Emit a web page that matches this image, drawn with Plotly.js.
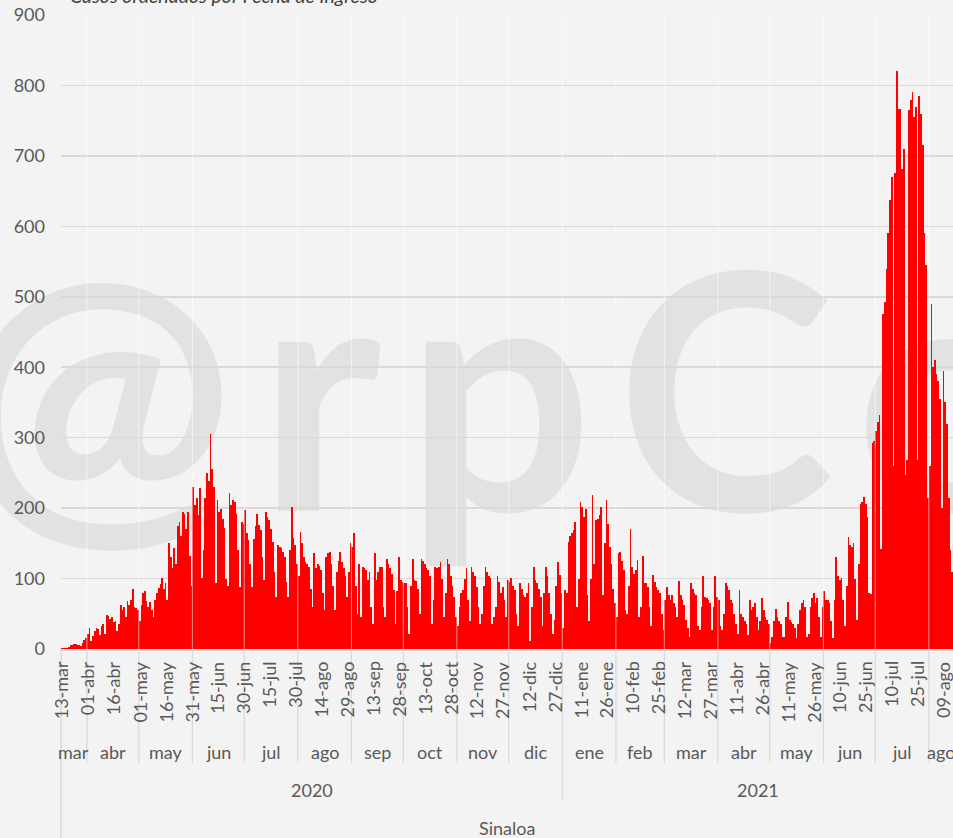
<!DOCTYPE html>
<html>
<head>
<meta charset="utf-8">
<script src="https://cdn.plot.ly/plotly-3.0.1.min.js"></script>
<style>
  html, body { margin: 0; padding: 0; background: #f3f3f3; }
  #chart { width: 953px; height: 838px; }
</style>
</head>
<body>
<div id="chart"></div>
<script>
// ---- Data: daily cases (Sinaloa), by month ----
const mar20 = [1,1,2,2,3,5,6,7,7,6,5,4,8,13,16];
const abr20 = [22,30,12,18,26,30,28,20,33,35,22,48,47,42,45,38,40,25,35,62,55,60,45,68,62,70,85,60,58,55];
const may20 = [40,62,79,83,68,60,67,55,45,70,80,86,92,101,85,94,70,150,130,115,143,120,175,180,160,195,192,170,195,132,90];
const jun20 = [230,205,214,190,229,101,140,215,250,239,305,255,230,94,211,195,199,185,172,100,89,221,205,211,208,192,140,88,181,178];
const jul20 = [198,164,155,120,88,156,175,192,176,169,130,98,195,188,183,171,152,110,74,147,145,143,138,131,95,74,140,202,157,147,120];
const ago20 = [103,166,150,131,124,120,117,85,60,136,115,121,118,112,80,55,130,136,138,121,90,55,110,125,138,124,115,103,74,110,150];
const sep20 = [145,164,90,50,121,46,117,115,112,98,110,60,36,136,98,110,117,116,60,45,128,121,115,107,84,36,82,131,98,95];
const oct20 = [93,93,60,22,90,128,98,96,85,50,128,125,121,115,112,103,36,70,117,115,117,124,100,46,80,128,121,103,90,74,45];
const nov20 = [32,60,80,84,100,115,70,40,117,110,103,88,60,36,50,90,117,110,103,101,36,45,60,103,95,80,88,70,46,98];
const dic20 = [95,101,90,84,50,32,93,85,77,74,80,93,12,60,117,98,93,85,74,32,80,117,103,80,50,22,41,90,124,105,80];
const ene21 = [30,84,80,152,160,164,169,181,60,100,209,202,188,199,77,40,100,218,121,183,184,190,202,77,150,211,178,145,121,85,65];
const feb21 = [46,136,138,125,112,55,50,90,170,117,107,112,126,46,60,132,93,93,88,60,32,105,95,88,84,80,50,27];
const mar21 = [70,88,77,70,77,65,60,45,96,77,70,63,41,30,17,93,85,80,77,32,27,60,103,74,72,70,65,27,60,103,74];
const abr21 = [70,32,27,50,93,90,84,70,65,50,36,22,84,50,46,40,36,20,70,55,60,65,46,27,40,72,55,46,41,36];
const may21 = [8,17,40,57,46,40,36,17,17,45,67,41,38,36,30,15,35,55,65,70,60,17,22,60,72,80,65,72,45,17,60];
const jun21 = [82,70,70,65,40,15,70,131,103,98,101,70,32,90,159,147,145,150,100,41,120,206,209,216,206,188,80,78,292,295];
const jul21 = [310,322,332,142,475,493,540,590,638,670,260,676,820,767,767,681,710,247,268,765,780,790,755,770,268,785,760,715,590,545,215];
const ago21 = [260,490,400,410,390,380,355,200,395,350,320,215,140,110];

const monthSeries = [mar20,abr20,may20,jun20,jul20,ago20,sep20,oct20,nov20,dic20,ene21,feb21,mar21,abr21,may21,jun21,jul21,ago21];
const monthLabels = ['mar','abr','may','jun','jul','ago','sep','oct','nov','dic','ene','feb','mar','abr','may','jun','jul','ago'];
const monthYear   = ['2020','2020','2020','2020','2020','2020','2020','2020','2020','2020','2021','2021','2021','2021','2021','2021','2021','2021'];
const tickLabels = ['13-mar','01-abr','16-abr','01-may','16-may','31-may','15-jun','30-jun','15-jul','30-jul','14-ago','29-ago','13-sep','28-sep','13-oct','28-oct','12-nov','27-nov','12-dic','27-dic','11-ene','26-ene','10-feb','25-feb','12-mar','27-mar','11-abr','26-abr','11-may','26-may','10-jun','25-jun','10-jul','25-jul','09-ago'];
const tickStep = 15;
const stateLabel = 'Sinaloa';
const titleText = 'Casos ordenados por Fecha de Ingreso';
const watermarkText = '@rpCo';

// ---- Build series ----
const cases = [].concat(...monthSeries);
const xs = cases.map((_, i) => i);
const N = cases.length;
const tickvals = tickLabels.map((_, i) => i * tickStep);

const starts = [];
let acc = 0;
monthSeries.forEach(m => { starts.push(acc); acc += m.length; });

const GRAY = '#595959';
const LINE = '#d9d9d9';
const FONT = 'Lato, "Open Sans", sans-serif';
const FS = 18;

const annotations = [];
// watermark (index 0, moved below the bars after render)
annotations.push({
  text: watermarkText, xref: 'paper', yref: 'paper', x: -0.053, y: 0.42,
  xanchor: 'left', yanchor: 'middle', showarrow: false,
  font: { family: 'Lato, "Liberation Sans", sans-serif', size: 330, color: '#e2e2e2', weight: 'bold' }
});
// title (cut off at top)
annotations.push({
  text: titleText, xref: 'paper', yref: 'paper', x: 0.0078, y: 1.031,
  xanchor: 'left', yanchor: 'middle', showarrow: false,
  font: { family: FONT, size: 19.5, color: '#404040', style: 'italic' }
});
// rotated day tick labels, right-aligned just below the axis
tickLabels.forEach((t, i) => {
  annotations.push({
    text: t, xref: 'x', yref: 'paper', x: tickvals[i], y: -0.018,
    xanchor: 'center', yanchor: 'top', textangle: -90, showarrow: false,
    borderpad: 0,
    font: { family: FONT, size: FS, color: GRAY }
  });
});

const shapes = [];
const yearSpans = {};
starts.forEach((s, i) => {
  const e = s + monthSeries[i].length - 1;
  annotations.push({
    text: monthLabels[i], xref: 'x', yref: 'paper', x: (s + e) / 2, y: -0.1625,
    xanchor: 'center', yanchor: 'middle', showarrow: false,
    font: { family: FONT, size: FS, color: GRAY }
  });
  const y = monthYear[i];
  if (!yearSpans[y]) yearSpans[y] = [s, e]; else yearSpans[y][1] = e;
  if (i > 0) {
    const newYear = monthYear[i] !== monthYear[i - 1];
    shapes.push({
      type: 'line', xref: 'x', yref: 'paper', x0: s - 0.5, x1: s - 0.5,
      y0: 0, y1: newYear ? -0.238 : -0.18, line: { color: LINE, width: 1.2 }, layer: 'above'
    });
    shapes.push({
      type: 'line', xref: 'x', yref: 'paper', x0: s - 0.5, x1: s - 0.5,
      y0: 0, y1: 1, line: { color: 'rgba(255,255,255,0.55)', width: 1 }, layer: 'above'
    });
  }
});
Object.keys(yearSpans).forEach(y => {
  const [s, e] = yearSpans[y];
  annotations.push({
    text: y, xref: 'x', yref: 'paper', x: (s + e) / 2, y: -0.2224,
    xanchor: 'center', yanchor: 'middle', showarrow: false,
    font: { family: FONT, size: FS, color: GRAY }
  });
});
annotations.push({
  text: stateLabel, xref: 'x', yref: 'paper', x: (N - 1) / 2, y: -0.2823,
  xanchor: 'center', yanchor: 'middle', showarrow: false,
  font: { family: FONT, size: FS, color: GRAY }
});
shapes.push({
  type: 'line', xref: 'paper', yref: 'paper', x0: 0, x1: 0, y0: 0, y1: -0.31,
  line: { color: LINE, width: 1.5 }, layer: 'above'
});

const trace = {
  type: 'bar', x: xs, y: cases,
  marker: { color: '#ff0000', line: { width: 0 } },
  hoverinfo: 'skip'
};

const layout = {
  width: 953, height: 838,
  margin: { l: 61, r: 0, t: 15, b: 189 },
  paper_bgcolor: '#f3f3f3', plot_bgcolor: '#f3f3f3',
  bargap: 0,
  showlegend: false,
  xaxis: {
    range: [-0.5, N - 0.5], tickvals: tickvals, showticklabels: false,
    ticks: '', showgrid: false, zeroline: false,
    showline: true, linecolor: LINE, linewidth: 1.5, fixedrange: true
  },
  yaxis: {
    range: [0, 900], dtick: 100, tick0: 0, ticks: '',
    showgrid: true, gridcolor: LINE, gridwidth: 1.5, zeroline: false,
    showline: false,
    tickfont: { family: FONT, size: FS, color: GRAY },
    ticklabelstandoff: 15, fixedrange: true
  },
  annotations: annotations,
  shapes: shapes
};

const gd = document.getElementById('chart');
Plotly.newPlot(gd, [trace], layout, { staticPlot: true, displayModeBar: false }).then(function () {
  const wm = gd.querySelector('.annotation[data-index="0"]');
  const svg = gd.querySelector('.main-svg');
  const cart = svg && svg.querySelector('.cartesianlayer');
  if (wm && cart) {
    const t = wm.querySelector('text');
    if (t) t.setAttribute('letter-spacing', '24');
    cart.parentNode.insertBefore(wm, cart);
  }
});
</script>
</body>
</html>
